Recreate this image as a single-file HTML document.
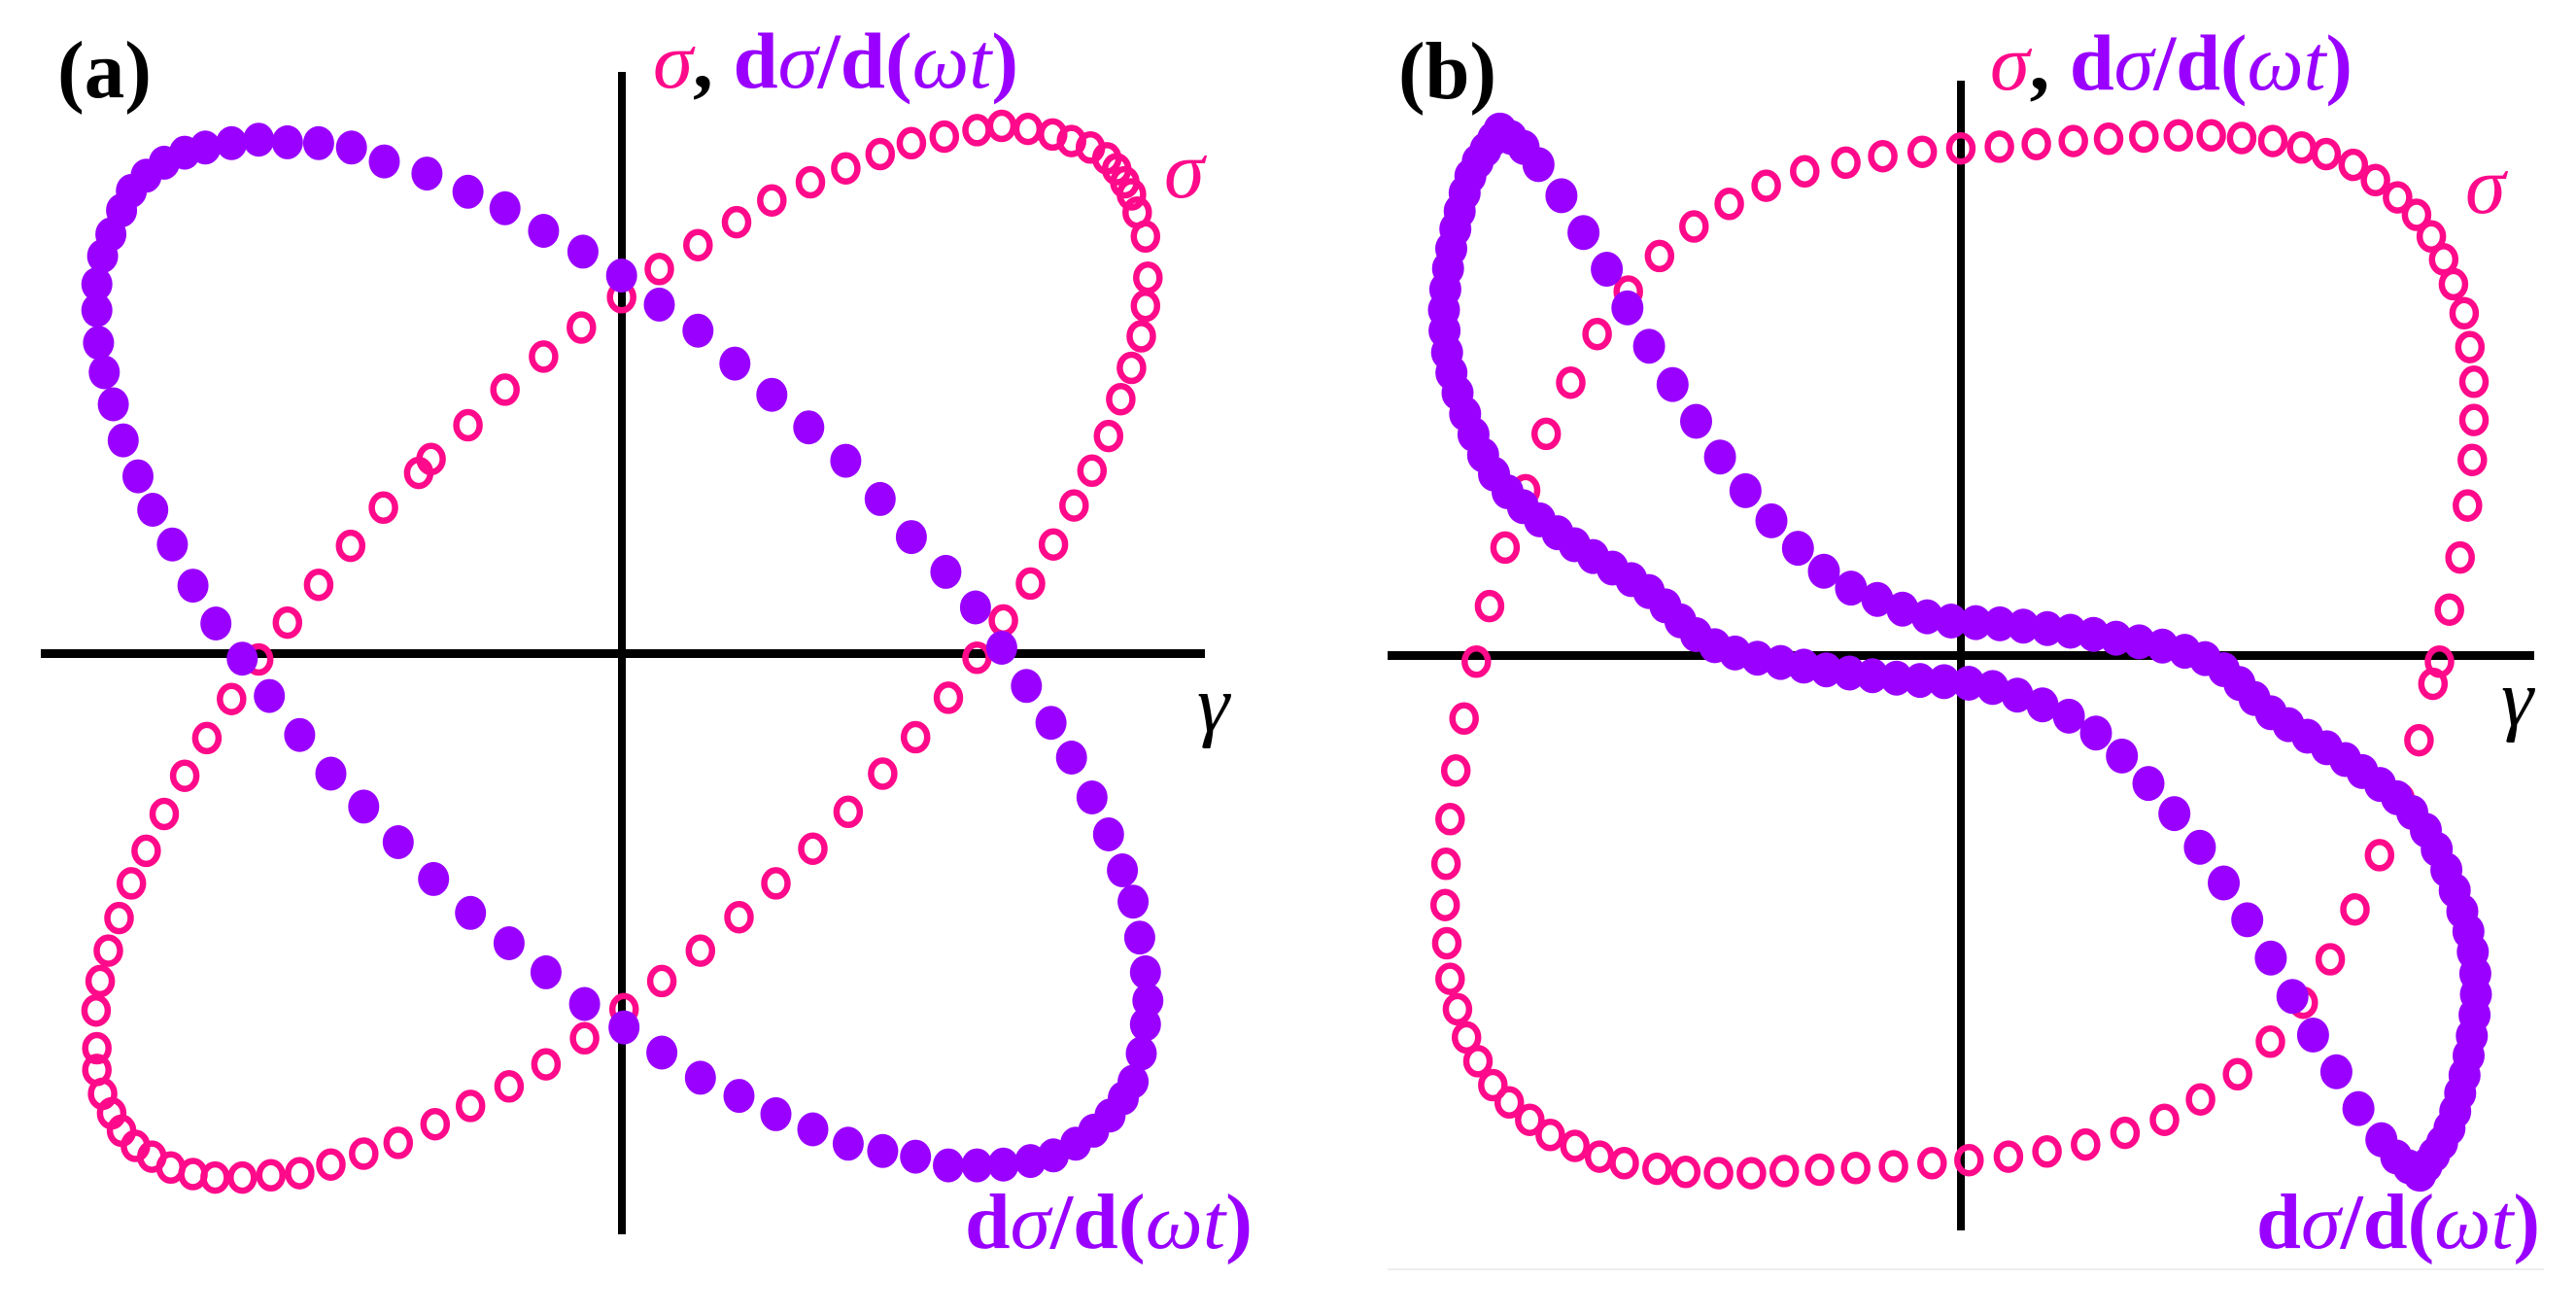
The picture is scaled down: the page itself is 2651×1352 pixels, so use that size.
<!DOCTYPE html>
<html><head><meta charset="utf-8">
<style>
html,body{margin:0;padding:0;background:#fff;}
svg{display:block;}
svg text{font-family:"Liberation Serif","Times New Roman",serif;}
</style></head>
<body>
<svg id="s" xmlns="http://www.w3.org/2000/svg" width="2651" height="1352" viewBox="0 0 2651 1352" font-family="Liberation Serif, Times New Roman, serif">
<rect width="2651" height="1352" fill="#fff"/>
<rect x="42" y="668" width="1198" height="9" fill="#000"/>
<rect x="636" y="74" width="8" height="1196" fill="#000"/>
<rect x="1428" y="670" width="1180" height="9" fill="#000"/>
<rect x="2014" y="83" width="8" height="1183" fill="#000"/>
<rect x="1428" y="1305" width="1190" height="2" fill="#eeeeee"/>
<g id="pink"></g>
<g id="purp"></g>
<g font-family="Liberation Serif, Times New Roman, serif">
<text x="59" y="100" font-family="Liberation Serif, serif" font-size="84" font-weight="bold" textLength="97" lengthAdjust="spacingAndGlyphs">(a)</text>
<text x="1439" y="101" font-family="Liberation Serif, serif" font-size="84" font-weight="bold" textLength="101" lengthAdjust="spacingAndGlyphs">(b)</text>
<text x="672" y="90" font-family="Liberation Serif, serif" font-size="82" font-weight="bold" textLength="376" lengthAdjust="spacingAndGlyphs"><tspan fill="#ff0a8a" font-style="italic" font-weight="normal">σ</tspan><tspan fill="#000">, </tspan><tspan fill="#9900ff">d</tspan><tspan fill="#9900ff" font-style="italic" font-weight="normal">σ</tspan><tspan fill="#9900ff">/d(</tspan><tspan fill="#9900ff" font-style="italic" font-weight="normal">ωt</tspan><tspan fill="#9900ff">)</tspan></text>
<text x="2048" y="92" font-family="Liberation Serif, serif" font-size="82" font-weight="bold" textLength="373" lengthAdjust="spacingAndGlyphs"><tspan fill="#ff0a8a" font-style="italic" font-weight="normal">σ</tspan><tspan fill="#000">, </tspan><tspan fill="#9900ff">d</tspan><tspan fill="#9900ff" font-style="italic" font-weight="normal">σ</tspan><tspan fill="#9900ff">/d(</tspan><tspan fill="#9900ff" font-style="italic" font-weight="normal">ωt</tspan><tspan fill="#9900ff">)</tspan></text>
<text x="1198" y="203" font-family="Liberation Serif, serif" font-size="84" font-style="italic" fill="#ff0a8a">σ</text>
<text x="2537" y="219" font-family="Liberation Serif, serif" font-size="84" font-style="italic" fill="#ff0a8a">σ</text>
<text x="1232" y="752" font-family="Liberation Serif, serif" font-size="84" font-style="italic" fill="#000">γ</text>
<text x="2574" y="746" font-family="Liberation Serif, serif" font-size="84" font-style="italic" fill="#000">γ</text>
<text x="993" y="1284" font-family="Liberation Serif, serif" font-size="80" font-weight="bold" fill="#9900ff" textLength="296" lengthAdjust="spacingAndGlyphs">d<tspan font-style="italic" font-weight="normal">σ</tspan>/d(<tspan font-style="italic" font-weight="normal">ωt</tspan>)</text>
<text x="2322" y="1284" font-family="Liberation Serif, serif" font-size="80" font-weight="bold" fill="#9900ff" textLength="292" lengthAdjust="spacingAndGlyphs">d<tspan font-style="italic" font-weight="normal">σ</tspan>/d(<tspan font-style="italic" font-weight="normal">ωt</tspan>)</text>
</g>
</svg>
<script>
(function(){
var NS="http://www.w3.org/2000/svg";
var PINK="#ff0a8a", PURP="#9900ff";
function cv(list,ox,oy){return list.map(function(p){return [ox+p[0]*0.845, oy+p[1]*0.4464, p[2]];});}
var gP=document.getElementById("pink"), gU=document.getElementById("purp");
function ring(x,y){var e=document.createElementNS(NS,"ellipse");e.setAttribute("cx",x.toFixed(1));e.setAttribute("cy",y.toFixed(1));e.setAttribute("rx","12");e.setAttribute("ry","13.5");e.setAttribute("fill","none");e.setAttribute("stroke",PINK);e.setAttribute("stroke-width","6.5");gP.appendChild(e);}
function dot(x,y,r){var e=document.createElementNS(NS,"ellipse");e.setAttribute("cx",x.toFixed(1));e.setAttribute("cy",y.toFixed(1));e.setAttribute("rx",r);e.setAttribute("ry",(r+1.5));e.setAttribute("fill",PURP);gU.appendChild(e);}

var sa1=[[315,1520],[350,1435],[388,1348],[427,1258],[467,1170],[510,1090],[525,1058],[570,980],[615,898],[662,822],[708,755],[757,685],[803,620],[850,565],[897,512],[940,462],[987,420],[1030,388],[1072,355],[1110,330],[1150,315],[1190,300],[1220,290],[1252,297],[1282,310],[1305,325],[1328,340],[1348,365],[1360,390],[1370,420],[1378,448],[1385,490],[1395,545],[1398,640],[1395,705],[1390,775],[1378,848],[1365,920],[1350,1005],[1330,1085],[1308,1165],[1283,1255],[1255,1345],[1222,1430]];
var sa4=[[1190,60],[1155,152],[1115,243],[1075,327],[1033,415],[990,500],[945,580],[900,658],[853,735],[806,805],[760,870],[712,937],[665,997],[620,1048],[573,1093],[530,1135],[485,1178],[443,1203],[403,1228],[365,1248],[330,1253],[295,1258],[262,1258],[235,1250],[208,1235],[185,1210],[165,1185],[148,1150],[136,1110],[125,1065],[118,1010],[118,960],[117,873],[122,805],[132,735],[145,660],[160,580],[178,505],[200,420],[225,332],[252,245],[282,155]];
cv(sa1,0,0).concat(cv(sa4,0,650)).forEach(function(p){ring(p[0],p[1]);});

var sb2=[[1403,1525],[1415,1405],[1428,1285],[1437,1165],[1443,1060],[1445,968],[1445,880],[1440,800],[1433,722],[1420,655],[1408,598],[1393,545],[1375,495],[1352,455],[1325,415],[1298,380],[1265,355],[1235,340],[1200,325],[1162,318],[1125,312],[1085,312],[1043,315],[1000,320],[957,325],[912,332],[867,338],[820,342],[773,350],[725,360],[680,375],[630,395],[583,428],[538,470],[495,522],[453,590],[415,672],[377,770],[345,882],[315,1000],[290,1130],[265,1262],[246,1397],[230,1525]];
var sb3=[[215,200],[205,320],[198,432],[193,535],[192,630],[194,718],[198,800],[207,870],[218,935],[232,990],[250,1045],[270,1085],[295,1125],[320,1160],[350,1185],[380,1210],[410,1225],[450,1238],[485,1245],[525,1248],[565,1248],[605,1243],[648,1240],[692,1236],[738,1232],[785,1225],[830,1218],[878,1210],[925,1198],[972,1182],[1020,1155],[1068,1125],[1112,1078],[1157,1020],[1197,945],[1237,855],[1270,755],[1300,640],[1330,515],[1355,385],[1378,250],[1395,120]];
cv(sb2,1325,0).concat(cv(sb3,1325,650)).forEach(function(p){ring(p[0],p[1]);});

var pa1a=[[118,655],[118,715],[120,790],[127,858],[138,932],[150,1015],[168,1098],[186,1175],[210,1255],[235,1350],[263,1437]];
var pa4=[[295,62],[328,148],[365,238],[403,327],[443,403],[485,485],[528,570],[573,648],[620,718],[665,785],[712,858],[760,912],[806,970],[853,1028],[900,1070],[945,1112],[990,1147],[1033,1180],[1075,1197],[1115,1210],[1155,1230],[1190,1230],[1222,1228],[1255,1220],[1283,1207],[1310,1180],[1332,1150],[1352,1115],[1368,1075],[1380,1037],[1390,972],[1395,905],[1398,850],[1395,785],[1388,705],[1380,622],[1367,550],[1350,467],[1330,382],[1305,290],[1280,210],[1250,125],[1220,37]];
var pa1b=[[1188,1400],[1152,1318],[1110,1238],[1072,1150],[1030,1062],[985,985],[940,910],[895,838],[850,762],[803,702],[757,635],[710,580],[662,532],[615,480],[570,442],[520,400],[468,372],[428,340],[388,330],[350,328],[315,322],[282,330],[250,340],[225,352],[200,375],[178,405],[160,440],[148,485],[135,540],[125,590]];
cv(pa1a,0,0).concat(cv(pa4,0,650)).concat(cv(pa1b,0,0)).forEach(function(p){dot(p[0],p[1],16);});

var kb2=[[258,300,12],[285,335,15],[310,390,25],[335,455,40],[365,550,44],[395,640,44],[427,755,44],[482,925,44],[540,1088,44],[600,1222,40],[663,1330,34],[730,1390,28],[795,1428,25],[880,1440,24],[1000,1468,23],[1120,1520,21]];
var kb3=[[1200,190,21],[1300,310,21],[1380,440,21],[1430,640,21],[1447,800,21],[1440,960,20],[1418,1130,18],[1395,1210,14],[1378,1250,12]];
var K=cv(kb2,1325,0).concat(cv(kb3,1325,650));
var dense=[];
for(var i=0;i<K.length-1;i++){
  var p0=K[Math.max(i-1,0)],p1=K[i],p2=K[i+1],p3=K[Math.min(i+2,K.length-1)];
  for(var j=0;j<40;j++){
    var t=j/40,t2=t*t,t3=t2*t;
    var x=0.5*((2*p1[0])+(-p0[0]+p2[0])*t+(2*p0[0]-5*p1[0]+4*p2[0]-p3[0])*t2+(-p0[0]+3*p1[0]-3*p2[0]+p3[0])*t3);
    var y=0.5*((2*p1[1])+(-p0[1]+p2[1])*t+(2*p0[1]-5*p1[1]+4*p2[1]-p3[1])*t2+(-p0[1]+3*p1[1]-3*p2[1]+p3[1])*t3);
    dense.push([x,y,p1[2]+(p2[2]-p1[2])*t]);
  }
}
var L=K[K.length-1];dense.push([L[0],L[1],L[2]]);
var pts=[[dense[0][0],dense[0][1]]],acc=0;
for(var i=1;i<dense.length;i++){
  var dx=dense[i][0]-dense[i-1][0],dy=dense[i][1]-dense[i-1][1];
  acc+=Math.sqrt(dx*dx+dy*dy);
  if(acc>=dense[i][2]){pts.push([dense[i][0],dense[i][1]]);acc=0;}
}
var cx=2017,cy=671;
pts.forEach(function(p){dot(p[0],p[1],16.5);});
pts.forEach(function(p){dot(2*cx-p[0],2*cy-p[1],16.5);});
})();
</script>
</body></html>
